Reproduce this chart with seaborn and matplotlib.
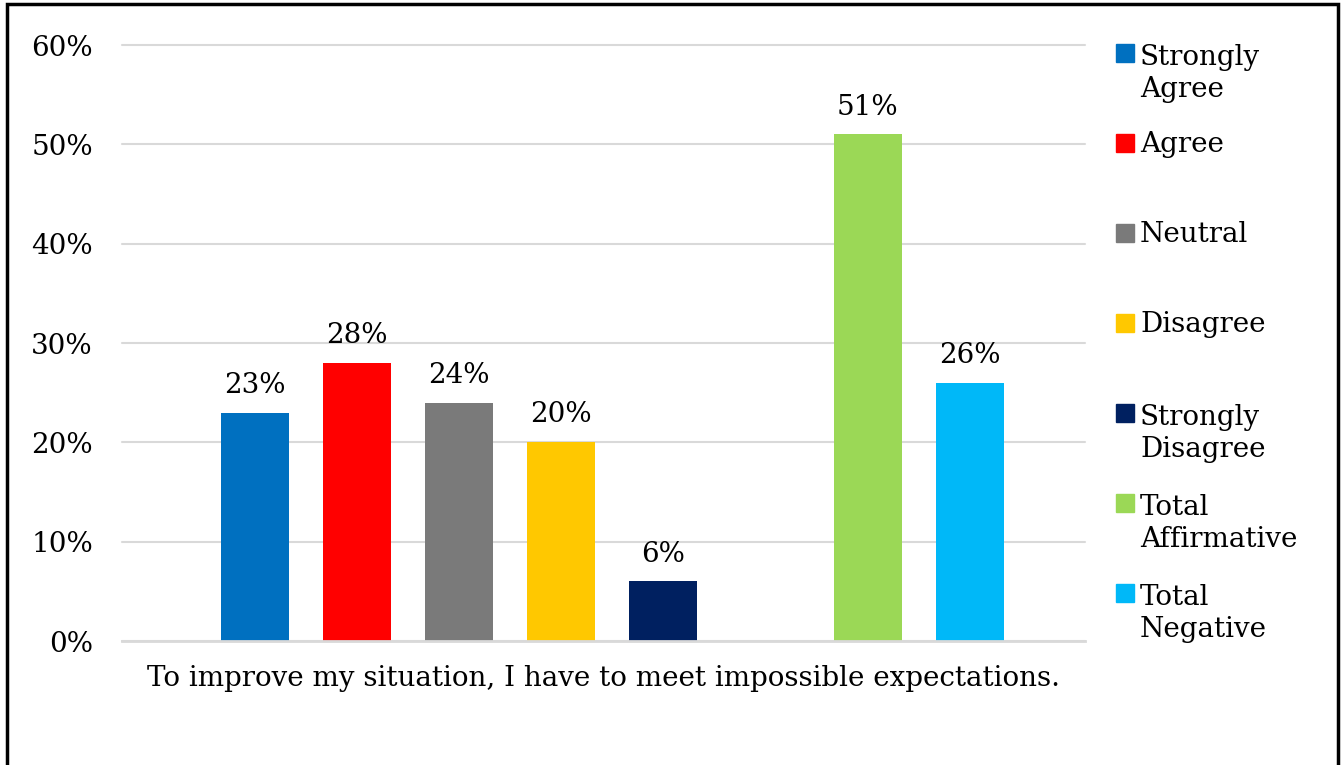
import matplotlib
matplotlib.use("Agg")
import matplotlib.pyplot as plt
import matplotlib.patches as mpatches
import seaborn as sns
import pandas as pd

categories = ["Strongly Agree", "Agree", "Neutral", "Disagree", "Strongly Disagree",
              "Total Affirmative", "Total Negative"]
values = [23, 28, 24, 20, 6, 51, 26]
colors = ["#0070C0", "#FF0000", "#7A7A7A", "#FFC800", "#002060", "#9BD856", "#00B8F8"]
legend_labels = ["Strongly\nAgree", "Agree", "Neutral", "Disagree", "Strongly\nDisagree",
                 "Total\nAffirmative", "Total\nNegative"]
yticks = [0, 10, 20, 30, 40, 50, 60]
question = "To improve my situation, I have to meet impossible expectations."

sns.set_theme(style="white")
plt.rcParams["font.family"] = ["DejaVu Serif"]
plt.rcParams["text.color"] = "black"
plt.rcParams["axes.labelcolor"] = "black"
plt.rcParams["ytick.color"] = "black"

FS = 20
W, H = 1341, 765
fig = plt.figure(figsize=(W / 100, H / 100), dpi=100)
ax = fig.add_axes([122 / W, 1 - 641 / H, (1085 - 122) / W, (641 - 45) / H])

order = categories[:5] + [" "] + categories[5:]
df = pd.DataFrame({"cat": categories, "val": values})
sns.barplot(data=df, x="cat", y="val", order=order, hue="cat", hue_order=categories,
            palette=dict(zip(categories, colors)), width=0.666, legend=False,
            saturation=1, linewidth=0, ax=ax)

ax.set_xlim(-1.30, 8.126)
ax.set_ylim(0, 60)
ax.set_yticks(yticks)
ax.set_yticklabels([f"{t}%" for t in yticks], fontsize=FS)
ax.tick_params(axis="y", length=0, pad=21)
ax.set_xticks([])
ax.set_xlabel(question, fontsize=FS, labelpad=17)
ax.set_ylabel("")
ax.yaxis.grid(True, color="#D9D9D9", linewidth=1.5)
for gl in ax.get_ygridlines():
    gl.set_clip_on(False)
ax.set_axisbelow(True)
for s in ["top", "right", "left"]:
    ax.spines[s].set_visible(False)
ax.spines["bottom"].set_color("#D9D9D9")
ax.spines["bottom"].set_linewidth(2)

for c in ax.containers:
    labels = [f"{v:.0f}%" if v == v else "" for v in c.datavalues]
    ax.bar_label(c, labels=labels, padding=10, fontsize=FS)

# legend (manual layout to match)
legend_y = [53, 143, 233, 323, 413, 503, 593]
LINE = 35
for lab, col, yy in zip(legend_labels, colors, legend_y):
    fig.patches.append(mpatches.Rectangle((1116 / W, 1 - (yy + 9) / H), 18 / W, 18 / H,
                                          transform=fig.transFigure, color=col))
    nl = lab.count("\n")
    base = yy + 9 + nl * LINE
    fig.text(1140 / W, 1 - base / H, lab, fontsize=FS, va="baseline", ha="left",
             linespacing=LINE / (FS * 100 / 72))

# outer border
fig.patches.append(mpatches.Rectangle((7 / W, -10 / H), (1338 - 7) / W, (765 - 4 + 10) / H,
                                      transform=fig.transFigure, fill=False,
                                      edgecolor="black", linewidth=2.5, clip_on=False))

fig.savefig("out.png", dpi=100)
